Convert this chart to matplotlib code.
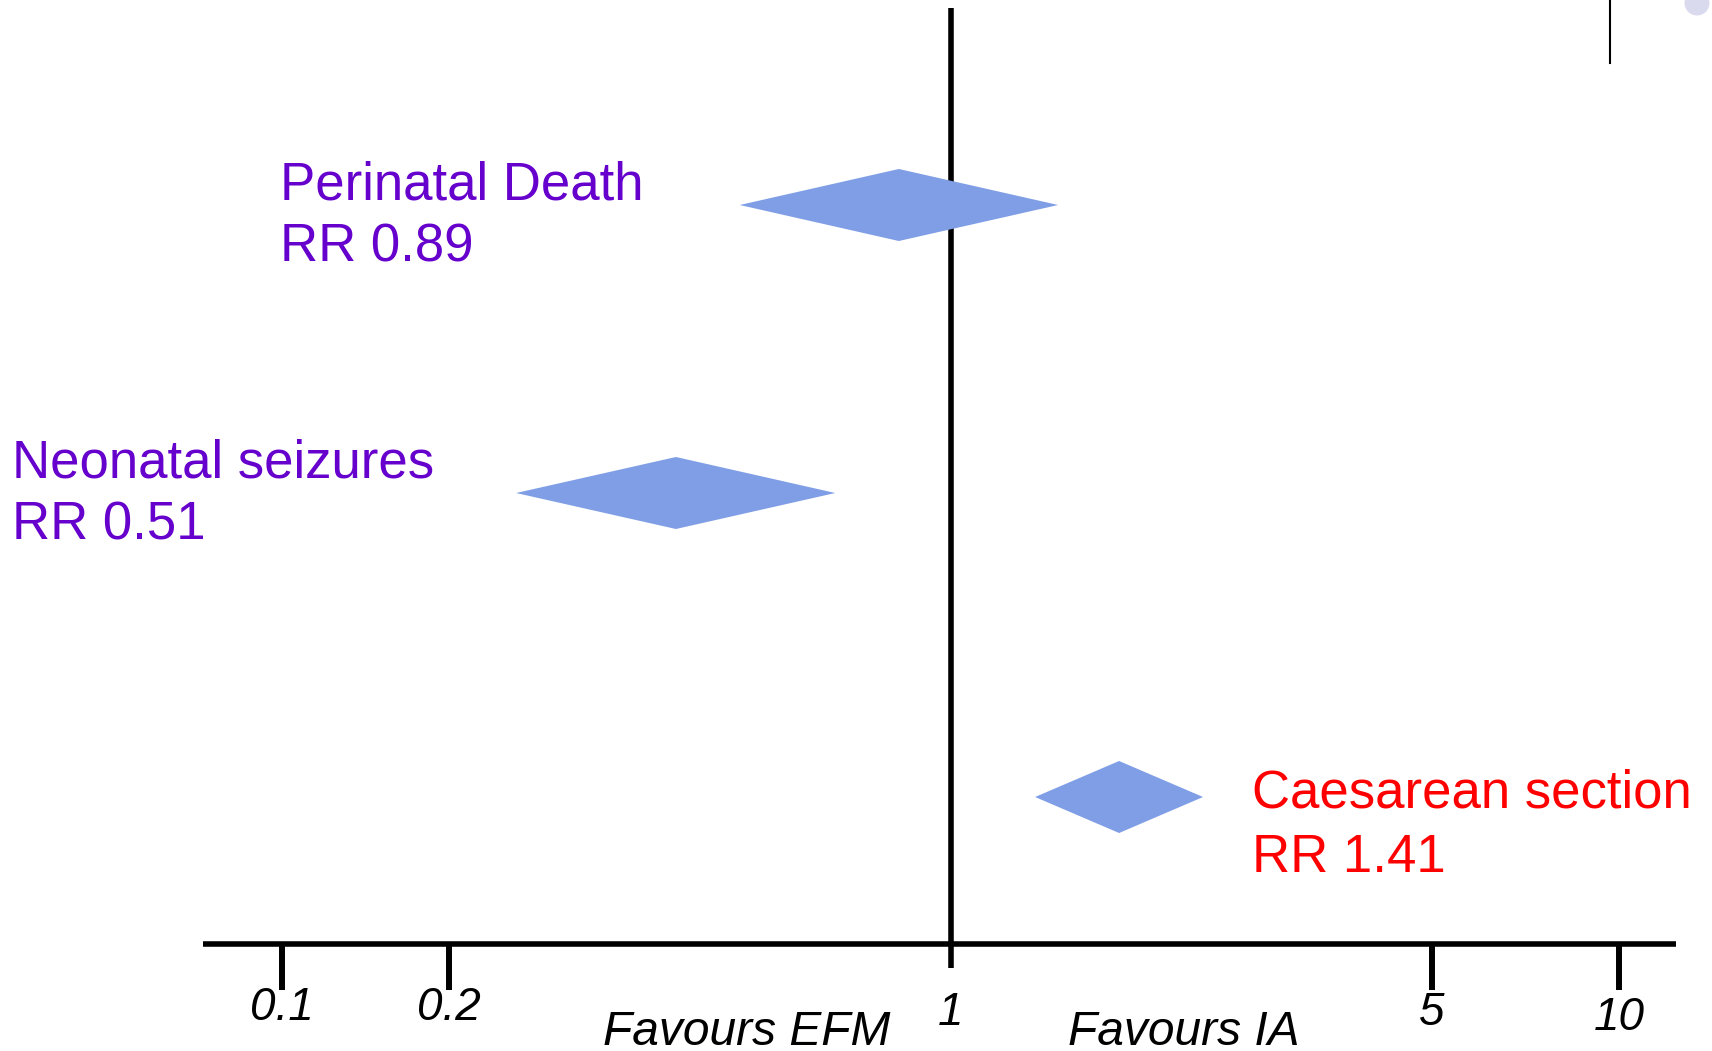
import numpy as np
import matplotlib
matplotlib.use("Agg")
import matplotlib.pyplot as plt
from matplotlib.patches import Polygon, Circle
from matplotlib.lines import Line2D

# данные
outcomes = ["Perinatal Death", "Neonatal seizures", "Caesarean section"]
rr_labels = ["RR 0.89", "RR 0.51", "RR 1.41"]
ci_low = [0.508, 0.248, 1.325]
ci_mid = [0.846, 0.414, 1.755]
ci_high = [1.431, 0.690, 2.324]
label_colors = ["#6600CC", "#6600CC", "#FF0000"]

tick_values = [0.1, 0.2, 1, 5, 10]
tick_labels = ["0.1", "0.2", "1", "5", "10"]
side_labels = ["Favours EFM", "Favours IA"]

W, H = 1712, 1051

# ось на слайде нарисована "от руки": лог-шкала с узлами в делениях
knot_log = np.log10(tick_values)
knot_px = np.array([282, 449, 951, 1432, 1619], dtype=float)
slope_l = (knot_px[1] - knot_px[0]) / (knot_log[1] - knot_log[0])
slope_r = (knot_px[-1] - knot_px[-2]) / (knot_log[-1] - knot_log[-2])


def fwd(x):
    l = np.log10(np.clip(np.asarray(x, dtype=float), 1e-9, None))
    p = np.interp(l, knot_log, knot_px)
    p = np.where(l < knot_log[0], knot_px[0] + (l - knot_log[0]) * slope_l, p)
    p = np.where(l > knot_log[-1], knot_px[-1] + (l - knot_log[-1]) * slope_r, p)
    return p


def inv(p):
    p = np.asarray(p, dtype=float)
    l = np.interp(p, knot_px, knot_log)
    l = np.where(p < knot_px[0], knot_log[0] + (p - knot_px[0]) / slope_l, l)
    l = np.where(p > knot_px[-1], knot_log[-1] + (p - knot_px[-1]) / slope_r, l)
    return 10 ** l


plt.rcParams["font.family"] = ["Liberation Sans", "DejaVu Sans"]

fig = plt.figure(figsize=(W / 100, H / 100), dpi=100)
ax = fig.add_axes([0, 0, 1, 1])
ax.set_xscale("function", functions=(fwd, inv))
ax.set_xlim(float(inv(0)), float(inv(W)))
ax.set_ylim(H, 0)
ax.axis("off")

row_y = [205, 493, 797]
axis_y = 943.5

# линия "нет эффекта" и горизонтальная ось
ax.plot([1, 1], [8, 968], color="black", lw=4, solid_capstyle="butt", zorder=1)
ax.plot([float(inv(203)), float(inv(1676))], [axis_y, axis_y], color="black", lw=4,
        solid_capstyle="butt", zorder=1)
for t in tick_values:
    if t != 1:
        ax.plot([t, t], [axis_y, 990], color="black", lw=4.3, solid_capstyle="butt")

# ромбы
h = 36
for i in range(len(outcomes)):
    y = row_y[i]
    pts = [(ci_low[i], y), (ci_mid[i], y - h), (ci_high[i], y), (ci_mid[i], y + h)]
    ax.add_patch(Polygon(pts, closed=True, facecolor="#7F9EE6", edgecolor="none", zorder=2))

# подписи делений
tick_base = [1020, 1020, 1025, 1025, 1030]
for t, lab, yb in zip(tick_values, tick_labels, tick_base):
    ax.text(t, yb, lab, ha="center", va="baseline", fontsize=33, style="italic")

side_pos = [(603, 1045), (1068, 1045)]
for lab, (px, py) in zip(side_labels, side_pos):
    fig.text(px / W, 1 - py / H, lab, ha="left", va="baseline", fontsize=34.5, style="italic")

# подписи исходов
label_pos = [(280, 200, 262), (12, 477, 540), (1252, 808, 872)]
for i, (px, y1, y2) in enumerate(label_pos):
    fig.text(px / W, 1 - y1 / H, outcomes[i], ha="left", va="baseline",
             fontsize=38, color=label_colors[i])
    fig.text(px / W, 1 - y2 / H, rr_labels[i], ha="left", va="baseline",
             fontsize=38, color=label_colors[i])

# остатки слайда в правом верхнем углу
fig.add_artist(Line2D([1610 / W, 1610 / W], [1, 1 - 63 / H], color="black", lw=1.5))
fig.add_artist(Circle((16.97, H / 100 - 0.03), 0.125, transform=fig.dpi_scale_trans,
                      facecolor="#D9DAEE", edgecolor="none"))

fig.savefig("out.png", dpi=100)
